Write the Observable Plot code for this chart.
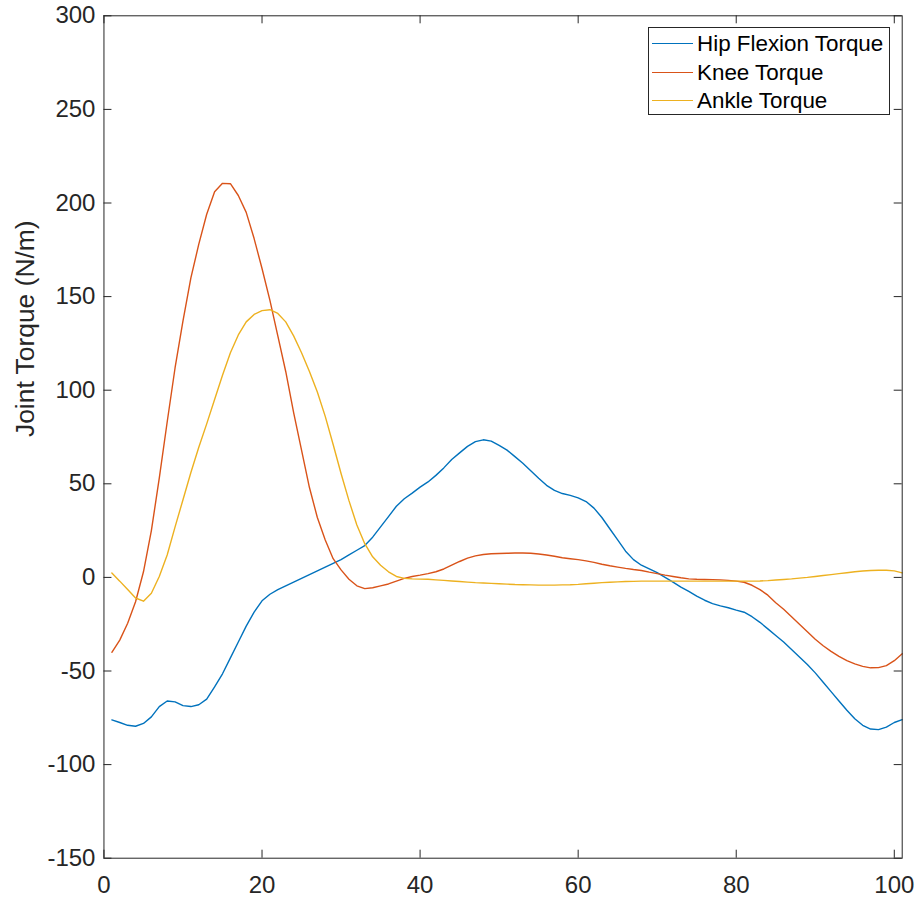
<!DOCTYPE html>
<html>
<head>
<meta charset="utf-8">
<script src="https://cdn.jsdelivr.net/npm/d3@7"></script>
<script src="https://cdn.jsdelivr.net/npm/@observablehq/plot@0.6"></script>
<style>
  body { margin: 0; background: #fff; }
  #wrap { position: relative; width: 921px; height: 900px; font-family: "Liberation Sans", Arial, sans-serif; }
  #legend { position: absolute; left: 648px; top: 27px; width: 242px; height: 88px; box-sizing: border-box;
            border: 1px solid #262626; background: #fff; }
  .lrow { position: absolute; left: 0; height: 28px; width: 240px; }
  .lline { position: absolute; left: 3px; width: 41px; height: 0; top: 13.5px; border-top: 1px solid; }
  .ltext { position: absolute; left: 48px; top: 0.5px; line-height: 28px; font-size: 22.4px; color: #000; white-space: nowrap; }
</style>
</head>
<body>
<div id="wrap"></div>
<script>
// ---- data ----
const gaitPercent = d3.range(1, 102); // 1..101 % of gait cycle
const seriesNames = ["Hip Flexion Torque", "Knee Torque", "Ankle Torque"];
const hipTorque = [
  -76.1, -77.5, -79, -79.5, -78, -74.5, -69, -66, -66.5, -68.5,
  -69, -68, -65, -58.5, -51.5, -43, -34.5, -26, -18.5, -12.5,
  -9, -6.5, -4.5, -2.5, -0.5, 1.5, 3.5, 5.5, 7.5, 9.5,
  12, 14.5, 17, 21.5, 27, 32.5, 38, 42, 45, 48.2,
  51, 54.5, 58.5, 63, 66.5, 70, 72.5, 73.5, 72.8, 70.5,
  68, 64.5, 61, 57, 53, 49.2, 46.5, 44.8, 43.8, 42.5,
  40.5, 37, 32, 26, 20, 14, 9.5, 6.5, 4.5, 2.5,
  0, -2.5, -5.2, -7.5, -10, -12.2, -14, -15.2, -16.2, -17.5,
  -18.6, -21, -24, -27.5, -31, -34.5, -38.5, -42.5, -46.5, -51,
  -56, -61, -66, -71, -75.5, -79, -81, -81.3, -80, -77.5,
  -76
];
const kneeTorque = [
  -40, -33.5, -24.5, -13, 3, 25, 53, 83, 112, 137,
  160, 178, 194, 206, 210.5, 210.3, 204, 195, 181, 165,
  148, 129, 110, 88, 68, 48, 32, 20, 10, 4,
  -1, -4.5, -6, -5.5, -4.5, -3.5, -2, -0.5, 0.5, 1.2,
  2, 3, 4.5, 6.5, 8.5, 10.3, 11.5, 12.2, 12.6, 12.8,
  12.9, 13, 13, 12.9, 12.5, 12, 11.3, 10.5, 10, 9.5,
  8.8, 8, 7, 6.2, 5.5, 4.8, 4.2, 3.7, 2.8, 2,
  1.2, 0.5, -0.2, -0.8, -1, -1.1, -1.2, -1.3, -1.6, -2,
  -2.6, -4.2, -6.5, -9.5, -13.5, -17, -21, -25, -29, -33,
  -36.5, -39.5, -42.2, -44.5, -46.2, -47.5, -48.3, -48.2, -47.1, -44.5,
  -40.8
];
const ankleTorque = [
  2.3, -2, -6.5, -11, -12.7, -8.5, 0.5, 12, 27, 41.5,
  56, 69.5, 82, 95, 108, 120, 129.5, 136.5, 140.5, 142.5,
  143, 141, 136.5, 129, 120, 110, 99, 86, 71, 55.5,
  41, 28, 18, 11, 6.5, 3, 0.5, -0.5, -0.8, -0.9,
  -1, -1.3, -1.6, -1.9, -2.2, -2.5, -2.8, -3, -3.2, -3.4,
  -3.6, -3.8, -3.9, -4, -4.1, -4.1, -4.1, -4, -3.9, -3.7,
  -3.4, -3.1, -2.8, -2.6, -2.4, -2.2, -2.1, -2, -2, -2,
  -2, -2, -2, -2, -2, -2, -2, -2, -2, -2,
  -2, -2, -1.9, -1.7, -1.4, -1.1, -0.8, -0.4, 0, 0.5,
  1, 1.5, 2, 2.5, 3, 3.4, 3.7, 3.8, 3.8, 3.5,
  2.4
];
const xTicks = [0, 20, 40, 60, 80, 100];
const yTicks = [-150, -100, -50, 0, 50, 100, 150, 200, 250, 300];
const yLabel = "Joint Torque (N/m)";

// ---- build ----
const colors = ["#0072BD", "#D95319", "#EDB120"];
const allSeries = [hipTorque, kneeTorque, ankleTorque];
const rows = [];
allSeries.forEach((vals, si) => {
  vals.forEach((v, i) => rows.push({ x: gaitPercent[i], y: v, series: seriesNames[si] }));
});

const W = 921, H = 900;
const mL = 103.45, mT = 15.3, mR = 19.3, mB = 42.3;
const plotW = W - mL - mR, plotH = H - mT - mB;
const tk = 8;
const ink = "#262626";

const chart = Plot.plot({
  width: W,
  height: H,
  marginLeft: mL,
  marginTop: mT,
  marginRight: mR,
  marginBottom: mB,
  style: { fontFamily: '"Liberation Sans", Arial, sans-serif', fontSize: "24px", color: ink, background: "#fff" },
  x: { domain: [0, 101] },
  y: { domain: [-150, 300] },
  color: { domain: seriesNames, range: colors },
  marks: [
    Plot.line(rows, { x: "x", y: "y", z: "series", stroke: "series", strokeWidth: 1.4 }),
    Plot.tickX(xTicks, { x: d => d, stroke: ink, insetTop: plotH - tk }),
    Plot.tickX(xTicks, { x: d => d, stroke: ink, insetBottom: plotH - tk }),
    Plot.tickY(yTicks, { y: d => d, stroke: ink, insetRight: plotW - tk }),
    Plot.tickY(yTicks, { y: d => d, stroke: ink, insetLeft: plotW - tk }),
    Plot.frame({ stroke: ink, strokeWidth: 1 }),
    Plot.axisX({ ticks: xTicks, tickSize: 0, tickPadding: 17.3, tickFormat: d => String(d), label: null, fontSize: 24, fill: ink }),
    Plot.axisY({ ticks: yTicks, tickSize: 0, tickPadding: 8.5, tickFormat: d => String(d), label: null, fontSize: 24, fill: ink }),
    Plot.text([yLabel], { text: d => d, frameAnchor: "left", rotate: -90, dx: -78, fontSize: 26.4, fill: ink })
  ]
});

const wrap = document.getElementById("wrap");
wrap.appendChild(chart);

const legend = document.createElement("div");
legend.id = "legend";
seriesNames.forEach((name, i) => {
  const row = document.createElement("div");
  row.className = "lrow";
  row.style.top = (1.8 + 28.5 * i) + "px";
  const line = document.createElement("div");
  line.className = "lline";
  line.style.borderTopColor = colors[i];
  const txt = document.createElement("div");
  txt.className = "ltext";
  txt.textContent = name;
  row.appendChild(line);
  row.appendChild(txt);
  legend.appendChild(row);
});
wrap.appendChild(legend);
</script>
</body>
</html>
